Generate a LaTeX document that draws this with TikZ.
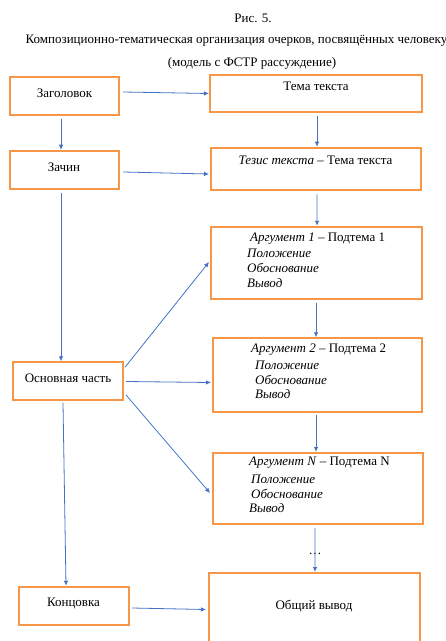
\documentclass[tikz,border=0pt]{standalone}
\usepackage{fontspec}
\setmainfont{Liberation Serif}
\usetikzlibrary{calc,arrows.meta}
\definecolor{boxorange}{HTML}{F79646}
\definecolor{arrblue}{HTML}{4472C4}
\begin{document}
\begin{tikzpicture}[x=1bp,y=-1bp,
  box/.style={draw=boxorange,line width=2bp,rectangle,inner sep=0pt,fill=white},
  txt/.style={font=\fontsize{13bp}{15bp}\selectfont,inner sep=0pt,text=black},
  arr/.style={draw=arrblue,line width=0.8bp,-{Latex[length=5bp,width=4.5bp]}}]
\fill[white] (0,0) rectangle (446,641);
\useasboundingbox (0,0) rectangle (446,641);
% titles
\node[txt] (t1) at (253,18) {Рис. 5.};
\node[txt] (t2) at (236.5,41) {Композиционно-тематическая организация очерков, посвящённых человеку};
\node[txt] (t3) at (252,63) {(модель с ФСТР рассуждение)};
% boxes
\node[box,minimum width=109bp,minimum height=38bp] (zag) at (64.5,96) {};
\node[box,minimum width=212bp,minimum height=37bp] (tema) at (316,93.5) {};
\node[box,minimum width=109bp,minimum height=38.5bp] (zach) at (64.5,170) {};
\node[box,minimum width=210bp,minimum height=42.5bp] (tezis) at (316,169) {};
\node[box,minimum width=211bp,minimum height=72.5bp] (arg1) at (316.5,263) {};
\node[box,minimum width=209bp,minimum height=73.5bp] (arg2) at (317.5,375) {};
\node[box,minimum width=110bp,minimum height=37.5bp] (osn) at (68,381) {};
\node[box,minimum width=210bp,minimum height=71bp] (argN) at (318,488.5) {};
\node[box,minimum width=211bp,minimum height=80bp] (obsh) at (314.5,613) {};
\node[box,minimum width=110bp,minimum height=38.5bp] (konc) at (74,606) {};
% box texts
\node[txt] (zagt) at (64.5,93) {Заголовок};
\node[txt] (temat) at (316,86) {Тема текста};
\node[txt] (zacht) at (64,167) {Зачин};
\node[txt] (tezist) at (315.5,160) {\textit{Тезис текста} – Тема текста};
\node[txt,anchor=west] (a1a) at (250,239) {\textit{Аргумент 1} – Подтема 1};
\node[txt,anchor=west] (a1b) at (247,253) {\textit{Положение}};
\node[txt,anchor=west] (a1c) at (247,268) {\textit{Обоснование}};
\node[txt,anchor=west] (a1d) at (247,283) {\textit{Вывод}};
\node[txt,anchor=west] (a2a) at (251,350) {\textit{Аргумент 2} – Подтема 2};
\node[txt,anchor=west] (a2b) at (255,365) {\textit{Положение}};
\node[txt,anchor=west] (a2c) at (255,380) {\textit{Обоснование}};
\node[txt,anchor=west] (a2d) at (255,394) {\textit{Вывод}};
\node[txt,anchor=west] (aNa) at (249,463) {\textit{Аргумент N} – Подтема N};
\node[txt,anchor=west] (aNb) at (251,479) {\textit{Положение}};
\node[txt,anchor=west] (aNc) at (251,494) {\textit{Обоснование}};
\node[txt,anchor=west] (aNd) at (249,508) {\textit{Вывод}};
\node[txt] (osnt) at (68,378) {Основная часть};
\node[txt] (dots) at (315,554) {…};
\node[txt] (obsht) at (314,606) {Общий вывод};
\node[txt] (konct) at (73.5,603) {Концовка};
% arrows
\draw[arr] ($(zag.east)+(3,-4)$) -- (tema.west);
\draw[arr] ($(zag.south)+(-3.5,3)$) -- ($(zach.north)+(-3.5,0)$);
\draw[arr] ($(tema.south)+(1,3)$) -- ($(tezis.north)+(1,0)$);
\draw[arr] ($(zach.east)+(3,2)$) -- ($(tezis.west)+(-1,5)$);
\draw[arr] ($(tezis.south)+(1,3)$) -- ($(arg1.north)+(0.5,0)$);
\draw[arr] ($(zach.south)+(-3.5,3)$) -- ($(osn.north)+(-7,0)$);
\draw[arr] ($(osn.north east)+(1,6)$) -- ($(arg1.west)+(-1,-1)$);
\draw[arr] ($(osn.east)+(2,0.5)$) -- ($(arg2.west)+(-1,7.5)$);
\draw[arr] ($(osn.east)+(2,14)$) -- ($(argN.west)+(-2,4.5)$);
\draw[arr] ($(arg1.south)+(-0.5,3)$) -- ($(arg2.north)+(-1.5,0)$);
\draw[arr] ($(arg2.south)+(-1.5,2.5)$) -- ($(argN.north)+(-2,0)$);
\draw[arr] ($(argN.south)+(-3,3)$) -- ($(obsh.north)+(0.5,0)$);
\draw[arr] ($(osn.south)+(-5,2)$) -- ($(konc.north)+(-8,0)$);
\draw[arr] ($(konc.east)+(2,2)$) -- ($(obsh.west)+(-2,-3.5)$);
\end{tikzpicture}
\end{document}
